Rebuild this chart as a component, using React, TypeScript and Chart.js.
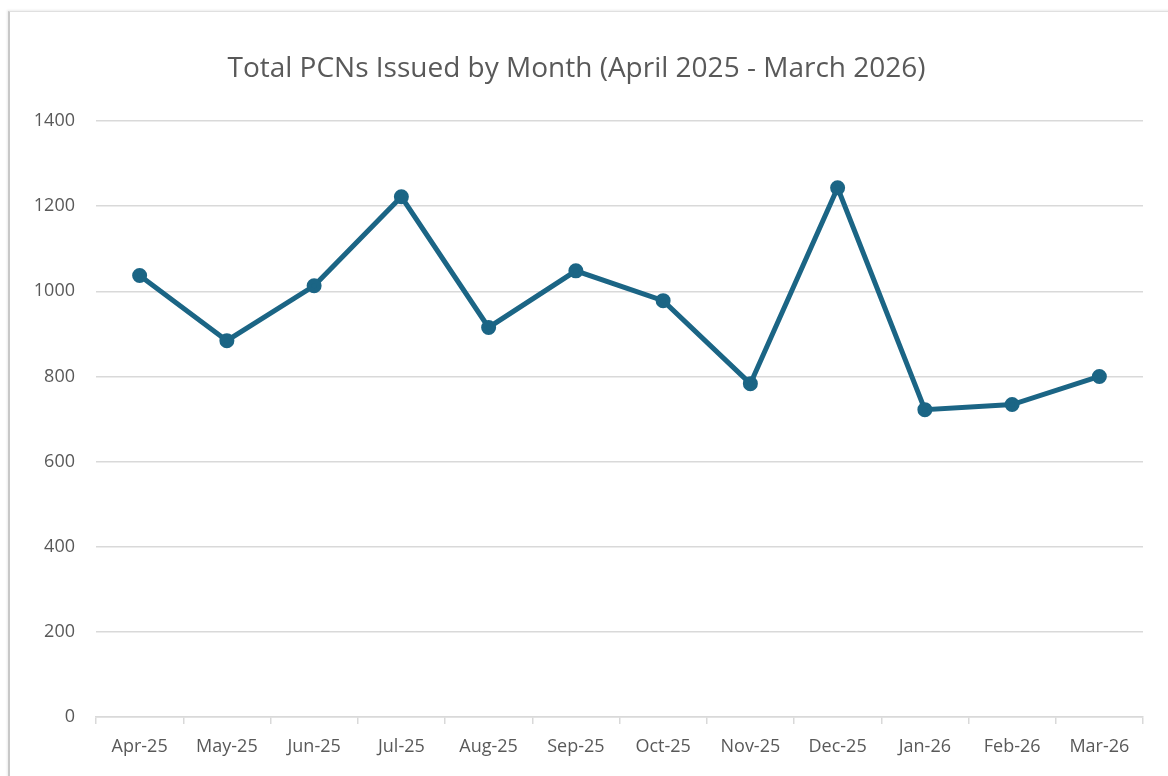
import React, { useEffect, useRef } from "react";
import { Chart, registerables } from "chart.js";

Chart.register(...registerables);

const months = ["Apr-25", "May-25", "Jun-25", "Jul-25", "Aug-25", "Sep-25", "Oct-25", "Nov-25", "Dec-25", "Jan-26", "Feb-26", "Mar-26"];
const pcnsIssued = [1037, 884, 1013, 1222, 915, 1048, 978, 783, 1243, 722, 734, 800];
const chartTitle = "Total PCNs Issued by Month (April 2025 - March 2026)";
const yMin = 0;
const yMax = 1400;
const yStep = 200;

const LINE = "#1b6585";
const TEXT = "#595959";
const GRID = "#d9d9d9";
const FONT = "'Open Sans', 'Noto Sans', sans-serif";

export default function App() {
  const ref = useRef<HTMLCanvasElement>(null);
  useEffect(() => {
    if (!ref.current) return;
    const chart = new Chart(ref.current, {
      type: "line",
      data: {
        labels: months,
        datasets: [
          {
            label: "Total PCNs",
            data: pcnsIssued,
            borderColor: LINE,
            backgroundColor: LINE,
            borderWidth: 5,
            pointRadius: 5,
            pointHoverRadius: 5,
            pointBackgroundColor: LINE,
            pointBorderColor: LINE,
            tension: 0,
          },
        ],
      },
      options: {
        responsive: false,
        animation: false,
        layout: { padding: { left: 0, right: 25, top: 0, bottom: 0 } },
        plugins: {
          legend: { display: false },
          tooltip: { enabled: false },
          title: {
            display: true,
            text: chartTitle,
            color: TEXT,
            font: { family: FONT, size: 28, weight: "normal" },
            padding: { top: 40, bottom: 35.4 },
          },
        },
        scales: {
          x: {
            offset: true,
            grid: {
              display: true,
              drawOnChartArea: false,
              drawTicks: true,
              tickLength: 7,
              color: GRID,
              lineWidth: 1.5,
              offset: true,
            },
            border: { display: true, color: GRID, width: 1.5 },
            ticks: {
              color: TEXT,
              font: { family: FONT, size: 18 },
              padding: 12,
              maxRotation: 0,
              autoSkip: false,
            },
            afterFit: (scale: any) => {
              scale.height = 58;
            },
          },
          y: {
            min: yMin,
            max: yMax,
            grid: { color: GRID, lineWidth: 1.5, drawTicks: false },
            border: { display: false },
            ticks: {
              stepSize: yStep,
              color: TEXT,
              font: { family: FONT, size: 18 },
              padding: 21,
              callback: (v: any) => String(v),
            },
            afterFit: (scale: any) => {
              scale.width = 86;
            },
          },
        },
      },
    });
    return () => chart.destroy();
  }, []);

  return (
    <div
      style={{
        position: "fixed",
        left: 0,
        top: 0,
        width: 1168,
        height: 776,
        background: "#ffffff",
        overflow: "hidden",
      }}
    >
      <div
        style={{
          position: "absolute",
          left: 8,
          top: 11,
          width: 1168,
          height: 776,
          borderLeft: "2px solid #c8c8c8",
          borderTop: "1px solid #e0e0e0",
          boxShadow: "-1px -1px 2px rgba(0,0,0,0.08)",
          background: "#ffffff",
        }}
      >
        <canvas ref={ref} width={1158} height={763} style={{ display: "block" }} />
      </div>
    </div>
  );
}
